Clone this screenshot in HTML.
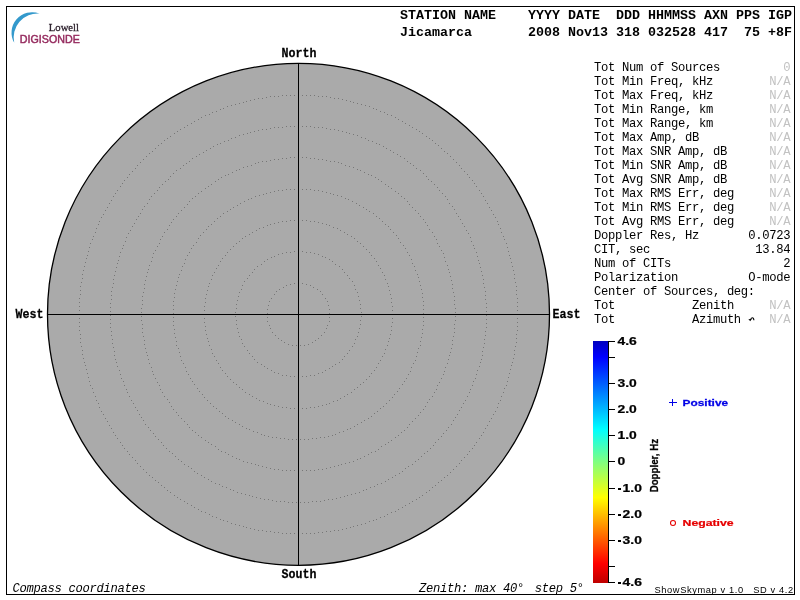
<!DOCTYPE html>
<html><head><meta charset="utf-8"><title>Skymap</title>
<style>
html,body{margin:0;padding:0;background:#fff;width:800px;height:600px;overflow:hidden}
svg{display:block;will-change:transform}
.mono{font-family:"Liberation Mono",monospace}
.sans{font-family:"Liberation Sans",sans-serif}
.serif{font-family:"Liberation Serif",serif}
text{white-space:pre}
.hd{font-family:"Liberation Mono",monospace;font-weight:bold;font-size:13.33px}
.tb{font-family:"Liberation Mono",monospace;font-size:12.2px;letter-spacing:-0.32px;fill:#000}
.na{fill:#c2c2c2}
.cmp{font-family:"Liberation Mono",monospace;font-weight:bold;font-size:13.3px;stroke:#000;stroke-width:0.25px}
.cb{font-family:"Liberation Sans",sans-serif;font-weight:bold;font-size:11px;stroke:#000;stroke-width:0.25px}
.it{font-family:"Liberation Mono",monospace;font-style:italic;font-size:12.2px;letter-spacing:-0.32px}
</style></head>
<body>
<svg width="800" height="600" viewBox="0 0 800 600">
<defs>
<linearGradient id="jet" x1="0" y1="0" x2="0" y2="1">
<stop offset="0" stop-color="#0000be"/>
<stop offset="0.066" stop-color="#0000ff"/>
<stop offset="0.365" stop-color="#00ffff"/>
<stop offset="0.5" stop-color="#80ff80"/>
<stop offset="0.647" stop-color="#ffff00"/>
<stop offset="0.92" stop-color="#ff0000"/>
<stop offset="1" stop-color="#be0000"/>
</linearGradient>
</defs>
<!-- frame -->
<rect x="6.5" y="6.5" width="788" height="588" fill="none" stroke="#000" stroke-width="1"/>

<!-- logo -->
<path d="M39.5,13.6 A20.5,20.5 0 0 0 14.2,42.8 A24,24 0 0 1 39.5,13.6 Z" fill="#3399cc"/>
<text transform="translate(48.8,30.9) scale(0.97,1)" class="serif" font-size="11" fill="#2a1e2a" stroke="#2a1e2a" stroke-width="0.3">Lowell</text>
<text transform="translate(19.8,43) scale(1.02,1)" class="sans" font-size="10.5" fill="#952a5e" stroke="#952a5e" stroke-width="0.45">DIGISONDE</text>

<!-- sky circle -->
<circle cx="298.5" cy="314.35" r="251" fill="#aaaaaa" stroke="#000" stroke-width="1.3"/>
<path d="M302 283.5h1M306 284.5h1M310 285.5h1M313 287.5h1M317 289.5h1M320 291.5h1M322 294.5h1M325 298.5h1M327 301.5h1M328 305.5h1M329 309.5h1M329 313.5h1M329 317.5h1M329 321.5h1M327 325.5h1M326 328.5h1M324 332.5h1M321 335.5h1M318 338.5h1M315 340.5h1M312 342.5h1M308 344.5h1M304 345.5h1M300 345.5h1M296 345.5h1M292 345.5h1M288 344.5h1M284 342.5h1M281 340.5h1M278 338.5h1M275 335.5h1M272 332.5h1M270 328.5h1M269 325.5h1M267 321.5h1M267 317.5h1M267 313.5h1M267 309.5h1M268 305.5h1M269 301.5h1M271 298.5h1M274 294.5h1M276 291.5h1M279 289.5h1M283 287.5h1M286 285.5h1M290 284.5h1M294 283.5h1M302 251.5h1M306 252.5h1M310 252.5h1M314 253.5h1M318 254.5h1M322 256.5h1M325 257.5h1M329 259.5h1M332 261.5h1M335 264.5h1M339 266.5h1M342 269.5h1M344 272.5h1M347 275.5h1M349 278.5h1M352 281.5h1M354 285.5h1M355 289.5h1M357 292.5h1M358 296.5h1M359 300.5h1M360 304.5h1M360 308.5h1M361 312.5h1M361 316.5h1M360 320.5h1M360 324.5h1M359 328.5h1M358 332.5h1M357 336.5h1M355 339.5h1M354 343.5h1M352 346.5h1M349 350.5h1M347 353.5h1M344 356.5h1M342 359.5h1M339 362.5h1M335 364.5h1M332 366.5h1M329 368.5h1M325 370.5h1M322 372.5h1M318 373.5h1M314 375.5h1M310 375.5h1M306 376.5h1M302 376.5h1M294 376.5h1M290 376.5h1M286 375.5h1M282 375.5h1M278 373.5h1M274 372.5h1M271 370.5h1M267 368.5h1M264 366.5h1M261 364.5h1M257 362.5h1M254 359.5h1M252 356.5h1M249 353.5h1M247 350.5h1M244 346.5h1M242 343.5h1M241 339.5h1M239 336.5h1M238 332.5h1M237 328.5h1M236 324.5h1M236 320.5h1M235 316.5h1M235 312.5h1M236 308.5h1M236 304.5h1M237 300.5h1M238 296.5h1M239 292.5h1M241 289.5h1M242 285.5h1M244 281.5h1M247 278.5h1M249 275.5h1M252 272.5h1M254 269.5h1M257 266.5h1M261 264.5h1M264 261.5h1M267 259.5h1M271 257.5h1M274 256.5h1M278 254.5h1M282 253.5h1M286 252.5h1M290 252.5h1M294 251.5h1M302 220.5h1M306 220.5h1M310 221.5h1M314 221.5h1M318 222.5h1M322 223.5h1M326 224.5h1M329 225.5h1M333 227.5h1M337 228.5h1M340 230.5h1M344 232.5h1M347 234.5h1M351 236.5h1M354 238.5h1M357 241.5h1M360 243.5h1M363 246.5h1M366 249.5h1M369 252.5h1M371 255.5h1M374 258.5h1M376 261.5h1M378 265.5h1M380 268.5h1M382 272.5h1M384 275.5h1M385 279.5h1M387 283.5h1M388 286.5h1M389 290.5h1M390 294.5h1M391 298.5h1M391 302.5h1M392 306.5h1M392 310.5h1M392 318.5h1M392 322.5h1M391 326.5h1M391 330.5h1M390 334.5h1M389 338.5h1M388 341.5h1M387 345.5h1M385 349.5h1M384 353.5h1M382 356.5h1M380 360.5h1M378 363.5h1M376 367.5h1M374 370.5h1M371 373.5h1M369 376.5h1M366 379.5h1M363 382.5h1M360 384.5h1M357 387.5h1M354 389.5h1M351 392.5h1M347 394.5h1M344 396.5h1M340 398.5h1M337 400.5h1M333 401.5h1M329 403.5h1M326 404.5h1M322 405.5h1M318 406.5h1M314 407.5h1M310 407.5h1M306 408.5h1M302 408.5h1M294 408.5h1M290 408.5h1M286 407.5h1M282 407.5h1M278 406.5h1M274 405.5h1M270 404.5h1M267 403.5h1M263 401.5h1M259 400.5h1M256 398.5h1M252 396.5h1M249 394.5h1M245 392.5h1M242 389.5h1M239 387.5h1M236 384.5h1M233 382.5h1M230 379.5h1M227 376.5h1M225 373.5h1M222 370.5h1M220 367.5h1M218 363.5h1M216 360.5h1M214 356.5h1M212 353.5h1M211 349.5h1M209 345.5h1M208 341.5h1M207 338.5h1M206 334.5h1M205 330.5h1M205 326.5h1M204 322.5h1M204 318.5h1M204 310.5h1M204 306.5h1M205 302.5h1M205 298.5h1M206 294.5h1M207 290.5h1M208 286.5h1M209 283.5h1M211 279.5h1M212 275.5h1M214 272.5h1M216 268.5h1M218 265.5h1M220 261.5h1M222 258.5h1M225 255.5h1M227 252.5h1M230 249.5h1M233 246.5h1M236 243.5h1M239 241.5h1M242 238.5h1M245 236.5h1M249 234.5h1M252 232.5h1M256 230.5h1M259 228.5h1M263 227.5h1M267 225.5h1M270 224.5h1M274 223.5h1M278 222.5h1M282 221.5h1M286 221.5h1M290 220.5h1M294 220.5h1M302 189.5h1M306 189.5h1M310 189.5h1M314 190.5h1M318 190.5h1M322 191.5h1M326 192.5h1M330 193.5h1M333 194.5h1M337 195.5h1M341 196.5h1M345 198.5h1M348 199.5h1M352 201.5h1M356 203.5h1M359 205.5h1M363 207.5h1M366 209.5h1M369 211.5h1M373 213.5h1M376 216.5h1M379 218.5h1M382 221.5h1M385 224.5h1M388 226.5h1M390 229.5h1M393 232.5h1M396 235.5h1M398 238.5h1M400 242.5h1M403 245.5h1M405 248.5h1M407 252.5h1M409 255.5h1M411 259.5h1M412 263.5h1M414 266.5h1M415 270.5h1M417 274.5h1M418 277.5h1M419 281.5h1M420 285.5h1M421 289.5h1M422 293.5h1M422 297.5h1M423 301.5h1M423 305.5h1M423 309.5h1M423 313.5h1M423 317.5h1M423 321.5h1M423 325.5h1M422 329.5h1M422 333.5h1M421 337.5h1M420 341.5h1M420 345.5h1M418 348.5h1M417 352.5h1M416 356.5h1M415 360.5h1M413 363.5h1M411 367.5h1M410 371.5h1M408 374.5h1M406 378.5h1M404 381.5h1M402 384.5h1M399 388.5h1M397 391.5h1M394 394.5h1M392 397.5h1M389 400.5h1M386 403.5h1M383 406.5h1M380 408.5h1M377 411.5h1M374 413.5h1M371 416.5h1M368 418.5h1M364 420.5h1M361 422.5h1M357 424.5h1M354 426.5h1M350 428.5h1M347 429.5h1M343 431.5h1M339 432.5h1M335 434.5h1M332 435.5h1M328 436.5h1M324 437.5h1M320 437.5h1M316 438.5h1M312 438.5h1M308 439.5h1M304 439.5h1M300 439.5h1M296 439.5h1M292 439.5h1M288 439.5h1M284 438.5h1M280 438.5h1M276 437.5h1M272 437.5h1M268 436.5h1M264 435.5h1M261 434.5h1M257 432.5h1M253 431.5h1M249 429.5h1M246 428.5h1M242 426.5h1M239 424.5h1M235 422.5h1M232 420.5h1M228 418.5h1M225 416.5h1M222 413.5h1M219 411.5h1M216 408.5h1M213 406.5h1M210 403.5h1M207 400.5h1M204 397.5h1M202 394.5h1M199 391.5h1M197 388.5h1M194 384.5h1M192 381.5h1M190 378.5h1M188 374.5h1M186 371.5h1M185 367.5h1M183 363.5h1M181 360.5h1M180 356.5h1M179 352.5h1M178 348.5h1M176 345.5h1M176 341.5h1M175 337.5h1M174 333.5h1M174 329.5h1M173 325.5h1M173 321.5h1M173 317.5h1M173 313.5h1M173 309.5h1M173 305.5h1M173 301.5h1M174 297.5h1M174 293.5h1M175 289.5h1M176 285.5h1M177 281.5h1M178 277.5h1M179 274.5h1M181 270.5h1M182 266.5h1M184 263.5h1M185 259.5h1M187 255.5h1M189 252.5h1M191 248.5h1M193 245.5h1M196 242.5h1M198 238.5h1M200 235.5h1M203 232.5h1M206 229.5h1M208 226.5h1M211 224.5h1M214 221.5h1M217 218.5h1M220 216.5h1M223 213.5h1M227 211.5h1M230 209.5h1M233 207.5h1M237 205.5h1M240 203.5h1M244 201.5h1M248 199.5h1M251 198.5h1M255 196.5h1M259 195.5h1M263 194.5h1M266 193.5h1M270 192.5h1M274 191.5h1M278 190.5h1M282 190.5h1M286 189.5h1M290 189.5h1M294 189.5h1M302 157.5h1M306 157.5h1M310 158.5h1M314 158.5h1M318 159.5h1M322 159.5h1M326 160.5h1M330 161.5h1M334 161.5h1M338 162.5h1M341 163.5h1M345 165.5h1M349 166.5h1M353 167.5h1M357 169.5h1M360 170.5h1M364 172.5h1M368 174.5h1M371 175.5h1M375 177.5h1M378 179.5h1M381 181.5h1M385 184.5h1M388 186.5h1M391 188.5h1M395 191.5h1M398 193.5h1M401 196.5h1M404 198.5h1M407 201.5h1M409 204.5h1M412 207.5h1M415 210.5h1M418 213.5h1M420 216.5h1M423 219.5h1M425 222.5h1M427 225.5h1M429 229.5h1M432 232.5h1M434 236.5h1M436 239.5h1M437 243.5h1M439 246.5h1M441 250.5h1M443 253.5h1M444 257.5h1M445 261.5h1M447 265.5h1M448 269.5h1M449 272.5h1M450 276.5h1M451 280.5h1M452 284.5h1M452 288.5h1M453 292.5h1M454 296.5h1M454 300.5h1M454 304.5h1M455 308.5h1M455 312.5h1M455 316.5h1M455 320.5h1M454 324.5h1M454 328.5h1M454 332.5h1M453 336.5h1M452 340.5h1M452 344.5h1M451 348.5h1M450 352.5h1M449 355.5h1M448 359.5h1M447 363.5h1M445 367.5h1M444 371.5h1M443 374.5h1M441 378.5h1M439 382.5h1M437 385.5h1M436 389.5h1M434 392.5h1M432 396.5h1M429 399.5h1M427 402.5h1M425 406.5h1M423 409.5h1M420 412.5h1M418 415.5h1M415 418.5h1M412 421.5h1M409 424.5h1M407 427.5h1M404 430.5h1M401 432.5h1M398 435.5h1M395 437.5h1M391 440.5h1M388 442.5h1M385 444.5h1M381 446.5h1M378 449.5h1M375 451.5h1M371 452.5h1M368 454.5h1M364 456.5h1M360 458.5h1M357 459.5h1M353 461.5h1M349 462.5h1M345 463.5h1M341 464.5h1M338 465.5h1M334 466.5h1M330 467.5h1M326 468.5h1M322 469.5h1M318 469.5h1M314 470.5h1M310 470.5h1M306 470.5h1M302 470.5h1M294 470.5h1M290 470.5h1M286 470.5h1M282 470.5h1M278 469.5h1M274 469.5h1M270 468.5h1M266 467.5h1M262 466.5h1M258 465.5h1M255 464.5h1M251 463.5h1M247 462.5h1M243 461.5h1M239 459.5h1M236 458.5h1M232 456.5h1M228 454.5h1M225 452.5h1M221 451.5h1M218 449.5h1M215 446.5h1M211 444.5h1M208 442.5h1M205 440.5h1M201 437.5h1M198 435.5h1M195 432.5h1M192 430.5h1M189 427.5h1M187 424.5h1M184 421.5h1M181 418.5h1M178 415.5h1M176 412.5h1M173 409.5h1M171 406.5h1M169 402.5h1M167 399.5h1M164 396.5h1M162 392.5h1M160 389.5h1M159 385.5h1M157 382.5h1M155 378.5h1M153 374.5h1M152 371.5h1M151 367.5h1M149 363.5h1M148 359.5h1M147 355.5h1M146 352.5h1M145 348.5h1M144 344.5h1M144 340.5h1M143 336.5h1M142 332.5h1M142 328.5h1M142 324.5h1M141 320.5h1M141 316.5h1M141 312.5h1M141 308.5h1M142 304.5h1M142 300.5h1M142 296.5h1M143 292.5h1M144 288.5h1M144 284.5h1M145 280.5h1M146 276.5h1M147 272.5h1M148 269.5h1M149 265.5h1M151 261.5h1M152 257.5h1M153 253.5h1M155 250.5h1M157 246.5h1M159 243.5h1M160 239.5h1M162 236.5h1M164 232.5h1M167 229.5h1M169 225.5h1M171 222.5h1M173 219.5h1M176 216.5h1M178 213.5h1M181 210.5h1M184 207.5h1M187 204.5h1M189 201.5h1M192 198.5h1M195 196.5h1M198 193.5h1M201 191.5h1M205 188.5h1M208 186.5h1M211 184.5h1M215 181.5h1M218 179.5h1M221 177.5h1M225 175.5h1M228 174.5h1M232 172.5h1M236 170.5h1M239 169.5h1M243 167.5h1M247 166.5h1M251 165.5h1M255 163.5h1M258 162.5h1M262 161.5h1M266 161.5h1M270 160.5h1M274 159.5h1M278 159.5h1M282 158.5h1M286 158.5h1M290 157.5h1M294 157.5h1M302 126.5h1M306 126.5h1M310 126.5h1M314 127.5h1M318 127.5h1M322 127.5h1M326 128.5h1M330 129.5h1M334 129.5h1M338 130.5h1M342 131.5h1M346 132.5h1M349 133.5h1M353 134.5h1M357 135.5h1M361 137.5h1M365 138.5h1M368 140.5h1M372 141.5h1M376 143.5h1M379 144.5h1M383 146.5h1M386 148.5h1M390 150.5h1M393 152.5h1M397 154.5h1M400 156.5h1M404 158.5h1M407 161.5h1M410 163.5h1M413 165.5h1M416 168.5h1M420 170.5h1M423 173.5h1M426 176.5h1M428 179.5h1M431 181.5h1M434 184.5h1M437 187.5h1M439 190.5h1M442 193.5h1M445 196.5h1M447 199.5h1M449 203.5h1M452 206.5h1M454 209.5h1M456 213.5h1M458 216.5h1M460 219.5h1M462 223.5h1M464 226.5h1M466 230.5h1M468 233.5h1M470 237.5h1M471 241.5h1M473 245.5h1M474 248.5h1M476 252.5h1M477 256.5h1M478 260.5h1M479 263.5h1M480 267.5h1M481 271.5h1M482 275.5h1M483 279.5h1M483 283.5h1M484 287.5h1M485 291.5h1M485 295.5h1M485 299.5h1M486 303.5h1M486 307.5h1M486 311.5h1M486 315.5h1M486 319.5h1M486 323.5h1M486 327.5h1M485 331.5h1M485 335.5h1M484 339.5h1M484 343.5h1M483 347.5h1M482 351.5h1M482 355.5h1M481 359.5h1M480 362.5h1M479 366.5h1M477 370.5h1M476 374.5h1M475 378.5h1M473 381.5h1M472 385.5h1M470 389.5h1M469 392.5h1M467 396.5h1M465 400.5h1M463 403.5h1M461 407.5h1M459 410.5h1M457 414.5h1M455 417.5h1M453 420.5h1M451 424.5h1M448 427.5h1M446 430.5h1M443 433.5h1M441 436.5h1M438 439.5h1M435 442.5h1M433 445.5h1M430 448.5h1M427 451.5h1M424 453.5h1M421 456.5h1M418 459.5h1M415 461.5h1M412 464.5h1M408 466.5h1M405 468.5h1M402 471.5h1M399 473.5h1M395 475.5h1M392 477.5h1M388 479.5h1M385 481.5h1M381 483.5h1M377 484.5h1M374 486.5h1M370 487.5h1M366 489.5h1M363 490.5h1M359 492.5h1M355 493.5h1M351 494.5h1M347 495.5h1M344 496.5h1M340 497.5h1M336 498.5h1M332 499.5h1M328 499.5h1M324 500.5h1M320 501.5h1M316 501.5h1M312 501.5h1M308 502.5h1M304 502.5h1M300 502.5h1M296 502.5h1M292 502.5h1M288 502.5h1M284 501.5h1M280 501.5h1M276 501.5h1M272 500.5h1M268 499.5h1M264 499.5h1M260 498.5h1M256 497.5h1M252 496.5h1M249 495.5h1M245 494.5h1M241 493.5h1M237 492.5h1M233 490.5h1M230 489.5h1M226 487.5h1M222 486.5h1M219 484.5h1M215 483.5h1M211 481.5h1M208 479.5h1M204 477.5h1M201 475.5h1M197 473.5h1M194 471.5h1M191 468.5h1M188 466.5h1M184 464.5h1M181 461.5h1M178 459.5h1M175 456.5h1M172 453.5h1M169 451.5h1M166 448.5h1M163 445.5h1M161 442.5h1M158 439.5h1M155 436.5h1M153 433.5h1M150 430.5h1M148 427.5h1M145 424.5h1M143 420.5h1M141 417.5h1M139 414.5h1M137 410.5h1M135 407.5h1M133 403.5h1M131 400.5h1M129 396.5h1M127 392.5h1M126 389.5h1M124 385.5h1M123 381.5h1M121 378.5h1M120 374.5h1M119 370.5h1M117 366.5h1M116 362.5h1M115 359.5h1M114 355.5h1M114 351.5h1M113 347.5h1M112 343.5h1M112 339.5h1M111 335.5h1M111 331.5h1M110 327.5h1M110 323.5h1M110 319.5h1M110 315.5h1M110 311.5h1M110 307.5h1M110 303.5h1M111 299.5h1M111 295.5h1M111 291.5h1M112 287.5h1M113 283.5h1M113 279.5h1M114 275.5h1M115 271.5h1M116 267.5h1M117 263.5h1M118 260.5h1M119 256.5h1M120 252.5h1M122 248.5h1M123 245.5h1M125 241.5h1M126 237.5h1M128 233.5h1M130 230.5h1M132 226.5h1M134 223.5h1M136 219.5h1M138 216.5h1M140 213.5h1M142 209.5h1M144 206.5h1M147 203.5h1M149 199.5h1M151 196.5h1M154 193.5h1M157 190.5h1M159 187.5h1M162 184.5h1M165 181.5h1M168 179.5h1M170 176.5h1M173 173.5h1M176 170.5h1M180 168.5h1M183 165.5h1M186 163.5h1M189 161.5h1M192 158.5h1M196 156.5h1M199 154.5h1M203 152.5h1M206 150.5h1M210 148.5h1M213 146.5h1M217 144.5h1M220 143.5h1M224 141.5h1M228 140.5h1M231 138.5h1M235 137.5h1M239 135.5h1M243 134.5h1M247 133.5h1M250 132.5h1M254 131.5h1M258 130.5h1M262 129.5h1M266 129.5h1M270 128.5h1M274 127.5h1M278 127.5h1M282 127.5h1M286 126.5h1M290 126.5h1M294 126.5h1M302 95.5h1M306 95.5h1M310 95.5h1M314 95.5h1M318 96.5h1M322 96.5h1M326 96.5h1M330 97.5h1M334 98.5h1M338 98.5h1M342 99.5h1M346 100.5h1M350 101.5h1M353 102.5h1M357 103.5h1M361 104.5h1M365 105.5h1M369 106.5h1M373 108.5h1M376 109.5h1M380 111.5h1M384 112.5h1M387 114.5h1M391 115.5h1M395 117.5h1M398 119.5h1M402 121.5h1M405 123.5h1M409 125.5h1M412 127.5h1M416 129.5h1M419 131.5h1M422 133.5h1M426 136.5h1M429 138.5h1M432 140.5h1M435 143.5h1M438 145.5h1M441 148.5h1M444 151.5h1M447 153.5h1M450 156.5h1M453 159.5h1M456 162.5h1M459 165.5h1M461 168.5h1M464 171.5h1M467 174.5h1M469 177.5h1M472 180.5h1M474 183.5h1M476 186.5h1M479 190.5h1M481 193.5h1M483 196.5h1M485 200.5h1M487 203.5h1M489 207.5h1M491 210.5h1M493 214.5h1M495 217.5h1M497 221.5h1M498 224.5h1M500 228.5h1M501 232.5h1M503 236.5h1M504 239.5h1M506 243.5h1M507 247.5h1M508 251.5h1M509 255.5h1M510 258.5h1M511 262.5h1M512 266.5h1M513 270.5h1M514 274.5h1M514 278.5h1M515 282.5h1M516 286.5h1M516 290.5h1M516 294.5h1M517 298.5h1M517 302.5h1M517 306.5h1M517 310.5h1M517 318.5h1M517 322.5h1M517 326.5h1M517 330.5h1M516 334.5h1M516 338.5h1M516 342.5h1M515 346.5h1M514 350.5h1M514 354.5h1M513 358.5h1M512 362.5h1M511 365.5h1M510 369.5h1M509 373.5h1M508 377.5h1M507 381.5h1M506 385.5h1M504 388.5h1M503 392.5h1M501 396.5h1M500 400.5h1M498 403.5h1M497 407.5h1M495 411.5h1M493 414.5h1M491 418.5h1M489 421.5h1M487 425.5h1M485 428.5h1M483 432.5h1M481 435.5h1M479 438.5h1M476 442.5h1M474 445.5h1M472 448.5h1M469 451.5h1M467 454.5h1M464 457.5h1M461 460.5h1M459 463.5h1M456 466.5h1M453 469.5h1M450 472.5h1M447 475.5h1M444 477.5h1M441 480.5h1M438 482.5h1M435 485.5h1M432 487.5h1M429 490.5h1M426 492.5h1M422 495.5h1M419 497.5h1M416 499.5h1M412 501.5h1M409 503.5h1M405 505.5h1M402 507.5h1M398 509.5h1M395 511.5h1M391 512.5h1M387 514.5h1M384 516.5h1M380 517.5h1M376 519.5h1M373 520.5h1M369 521.5h1M365 523.5h1M361 524.5h1M357 525.5h1M353 526.5h1M350 527.5h1M346 528.5h1M342 529.5h1M338 530.5h1M334 530.5h1M330 531.5h1M326 531.5h1M322 532.5h1M318 532.5h1M314 533.5h1M310 533.5h1M306 533.5h1M302 533.5h1M294 533.5h1M290 533.5h1M286 533.5h1M282 533.5h1M278 532.5h1M274 532.5h1M270 531.5h1M266 531.5h1M262 530.5h1M258 530.5h1M254 529.5h1M250 528.5h1M246 527.5h1M243 526.5h1M239 525.5h1M235 524.5h1M231 523.5h1M227 521.5h1M223 520.5h1M220 519.5h1M216 517.5h1M212 516.5h1M209 514.5h1M205 512.5h1M201 511.5h1M198 509.5h1M194 507.5h1M191 505.5h1M187 503.5h1M184 501.5h1M180 499.5h1M177 497.5h1M174 495.5h1M170 492.5h1M167 490.5h1M164 487.5h1M161 485.5h1M158 482.5h1M155 480.5h1M152 477.5h1M149 475.5h1M146 472.5h1M143 469.5h1M140 466.5h1M137 463.5h1M135 460.5h1M132 457.5h1M129 454.5h1M127 451.5h1M124 448.5h1M122 445.5h1M120 442.5h1M117 438.5h1M115 435.5h1M113 432.5h1M111 428.5h1M109 425.5h1M107 421.5h1M105 418.5h1M103 414.5h1M101 411.5h1M99 407.5h1M98 403.5h1M96 400.5h1M95 396.5h1M93 392.5h1M92 388.5h1M90 385.5h1M89 381.5h1M88 377.5h1M87 373.5h1M86 369.5h1M85 365.5h1M84 362.5h1M83 358.5h1M82 354.5h1M82 350.5h1M81 346.5h1M80 342.5h1M80 338.5h1M80 334.5h1M79 330.5h1M79 326.5h1M79 322.5h1M79 318.5h1M79 310.5h1M79 306.5h1M79 302.5h1M79 298.5h1M80 294.5h1M80 290.5h1M80 286.5h1M81 282.5h1M82 278.5h1M82 274.5h1M83 270.5h1M84 266.5h1M85 262.5h1M86 258.5h1M87 255.5h1M88 251.5h1M89 247.5h1M90 243.5h1M92 239.5h1M93 236.5h1M95 232.5h1M96 228.5h1M98 224.5h1M99 221.5h1M101 217.5h1M103 214.5h1M105 210.5h1M107 207.5h1M109 203.5h1M111 200.5h1M113 196.5h1M115 193.5h1M117 190.5h1M120 186.5h1M122 183.5h1M124 180.5h1M127 177.5h1M129 174.5h1M132 171.5h1M135 168.5h1M137 165.5h1M140 162.5h1M143 159.5h1M146 156.5h1M149 153.5h1M152 151.5h1M155 148.5h1M158 145.5h1M161 143.5h1M164 140.5h1M167 138.5h1M170 136.5h1M174 133.5h1M177 131.5h1M180 129.5h1M184 127.5h1M187 125.5h1M191 123.5h1M194 121.5h1M198 119.5h1M201 117.5h1M205 115.5h1M209 114.5h1M212 112.5h1M216 111.5h1M220 109.5h1M223 108.5h1M227 106.5h1M231 105.5h1M235 104.5h1M239 103.5h1M243 102.5h1M246 101.5h1M250 100.5h1M254 99.5h1M258 98.5h1M262 98.5h1M266 97.5h1M270 96.5h1M274 96.5h1M278 96.5h1M282 95.5h1M286 95.5h1M290 95.5h1M294 95.5h1" stroke="#777" stroke-width="1" shape-rendering="crispEdges"/>
<line x1="298.5" y1="63.4" x2="298.5" y2="565.4" stroke="#000" stroke-width="1"/>
<line x1="47.5" y1="314.5" x2="549.5" y2="314.5" stroke="#000" stroke-width="1"/>

<text transform="translate(281.5,57) scale(0.877,1)" class="cmp">North</text>
<text transform="translate(281.5,578) scale(0.877,1)" class="cmp">South</text>
<text transform="translate(15.5,318) scale(0.877,1)" class="cmp">West</text>
<text transform="translate(552.5,318) scale(0.877,1)" class="cmp">East</text>

<!-- header -->
<text x="400" y="19" class="hd">STATION NAME    YYYY DATE  DDD HHMMSS AXN PPS IGP</text>
<text x="400" y="35.5" class="hd">Jicamarca       2008 Nov13 318 032528 417  75 +8F</text>

<!-- table -->
<g class="tb">
<text x="594" y="71">Tot Num of Sources</text>
<text x="594" y="85">Tot Min Freq, kHz</text>
<text x="594" y="99">Tot Max Freq, kHz</text>
<text x="594" y="113">Tot Min Range, km</text>
<text x="594" y="127">Tot Max Range, km</text>
<text x="594" y="141">Tot Max Amp, dB</text>
<text x="594" y="155">Tot Max SNR Amp, dB</text>
<text x="594" y="169">Tot Min SNR Amp, dB</text>
<text x="594" y="183">Tot Avg SNR Amp, dB</text>
<text x="594" y="197">Tot Max RMS Err, deg</text>
<text x="594" y="211">Tot Min RMS Err, deg</text>
<text x="594" y="225">Tot Avg RMS Err, deg</text>
<text x="594" y="239">Doppler Res, Hz</text>
<text x="594" y="253">CIT, sec</text>
<text x="594" y="267">Num of CITs</text>
<text x="594" y="281">Polarization</text>
<text x="594" y="295">Center of Sources, deg:</text>
<text x="594" y="309">Tot           Zenith</text>
<text x="594" y="323">Tot           Azimuth</text>
</g>
<g class="tb" text-anchor="end">
<text x="790.2" y="71" class="na">0</text>
<text x="790.2" y="85" class="na">N/A</text>
<text x="790.2" y="99" class="na">N/A</text>
<text x="790.2" y="113" class="na">N/A</text>
<text x="790.2" y="127" class="na">N/A</text>
<text x="790.2" y="141" class="na">N/A</text>
<text x="790.2" y="155" class="na">N/A</text>
<text x="790.2" y="169" class="na">N/A</text>
<text x="790.2" y="183" class="na">N/A</text>
<text x="790.2" y="197" class="na">N/A</text>
<text x="790.2" y="211" class="na">N/A</text>
<text x="790.2" y="225" class="na">N/A</text>
<text x="790.2" y="239">0.0723</text>
<text x="790.2" y="253">13.84</text>
<text x="790.2" y="267">2</text>
<text x="790.2" y="281">O-mode</text>
<text x="790.2" y="309" class="na">N/A</text>
<text x="790.2" y="323" class="na">N/A</text>
</g>
<!-- small arrow -->
<path d="M750.7,320 C750.9,317.1 753.7,316.9 753.9,320.2" fill="none" stroke="#000" stroke-width="1.1"/>
<path d="M748.3,319.3 L751.4,319 L750.4,321.3 Z" fill="#000"/>

<!-- color bar -->
<rect x="593" y="341" width="15" height="242" fill="url(#jet)"/>
<g stroke="#000" stroke-width="1">
<line x1="608.5" y1="341" x2="608.5" y2="583"/>
<line x1="608" y1="341.5" x2="615" y2="341.5"/>
<line x1="608" y1="357.5" x2="615" y2="357.5"/>
<line x1="608" y1="383.5" x2="615" y2="383.5"/>
<line x1="608" y1="409.5" x2="615" y2="409.5"/>
<line x1="608" y1="435.5" x2="615" y2="435.5"/>
<line x1="608" y1="461.5" x2="615" y2="461.5"/>
<line x1="608" y1="488.5" x2="615" y2="488.5"/>
<line x1="608" y1="514.5" x2="615" y2="514.5"/>
<line x1="608" y1="540.5" x2="615" y2="540.5"/>
<line x1="608" y1="566.5" x2="615" y2="566.5"/>
<line x1="608" y1="582.5" x2="615" y2="582.5"/>
</g>
<g class="cb">
<text transform="translate(617.5,344.7) scale(1.26,1)">4.6</text>
<text transform="translate(617.5,386.7) scale(1.26,1)">3.0</text>
<text transform="translate(617.5,412.7) scale(1.26,1)">2.0</text>
<text transform="translate(617.5,438.7) scale(1.26,1)">1.0</text>
<text transform="translate(617.5,464.7) scale(1.26,1)">0</text>
<rect x="618" y="488" width="3" height="2" stroke="none"/><text transform="translate(622.6,491.7) scale(1.26,1)">1.0</text>
<rect x="618" y="514" width="3" height="2" stroke="none"/><text transform="translate(622.6,517.7) scale(1.26,1)">2.0</text>
<rect x="618" y="540" width="3" height="2" stroke="none"/><text transform="translate(622.6,543.7) scale(1.26,1)">3.0</text>
<rect x="618" y="582" width="3" height="2" stroke="none"/><text transform="translate(622.6,585.7) scale(1.26,1)">4.6</text>
</g>
<text transform="translate(657.6,492.3) rotate(-90) scale(0.97,1)" class="sans" font-weight="bold" font-size="10" stroke="#000" stroke-width="0.3">Doppler, Hz</text>

<!-- legend -->
<g stroke="#0000e6" stroke-width="1">
<line x1="669" y1="402.5" x2="677" y2="402.5"/>
<line x1="672.5" y1="399" x2="672.5" y2="406"/>
</g>
<text transform="translate(682.6,406) scale(1.25,1)" class="sans" font-weight="bold" font-size="9.5" fill="#0000e6" stroke="#0000e6" stroke-width="0.25">Positive</text>
<circle cx="673" cy="523" r="2.5" fill="none" stroke="#e60000" stroke-width="1.05"/>
<text transform="translate(682.6,526) scale(1.29,1)" class="sans" font-weight="bold" font-size="9.5" fill="#e60000" stroke="#e60000" stroke-width="0.25">Negative</text>

<!-- footer -->
<text x="12.5" y="592.4" class="it">Compass coordinates</text>
<text x="419" y="592.4" class="it">Zenith: max 40°<tspan dx="-3.2">  step 5°</tspan></text>
<text x="654.5" y="592.5" class="sans" font-size="9.3" letter-spacing="0.6">ShowSkymap v 1.0   SD v 4.2</text>
</svg>
</body></html>
